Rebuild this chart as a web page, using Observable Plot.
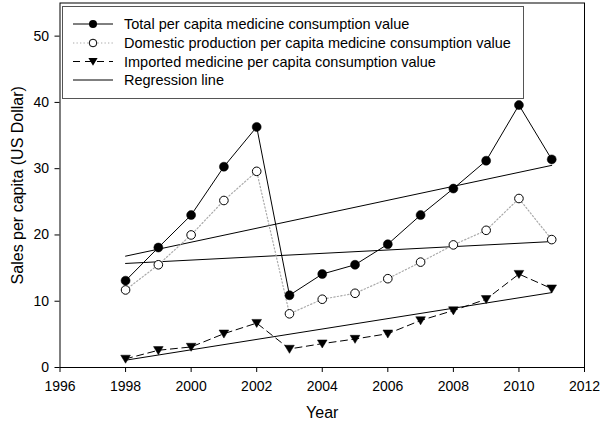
<!DOCTYPE html>
<html><head><meta charset="utf-8">
<script src="https://cdn.jsdelivr.net/npm/d3@7"></script>
<script src="https://cdn.jsdelivr.net/npm/@observablehq/plot@0.6"></script>
<style>
html,body{margin:0;padding:0;background:#fff;}
#wrap{position:relative;width:600px;height:427px;}
</style></head><body><div id="wrap"></div>
<script>
const years = [1998,1999,2000,2001,2002,2003,2004,2005,2006,2007,2008,2009,2010,2011];
const total = [13.1,18.1,23.0,30.3,36.3,10.9,14.1,15.5,18.6,23.0,27.0,31.2,39.6,31.4];
const domestic = [11.7,15.5,20.0,25.2,29.6,8.1,10.3,11.2,13.4,15.9,18.5,20.7,25.5,19.3];
const imported = [1.3,2.6,3.1,5.1,6.7,2.8,3.6,4.3,5.1,7.1,8.6,10.3,14.1,11.9];
const regYears = [1998, 2011];
const regTotal = [16.8, 30.5];
const regDomestic = [15.7, 19.0];
const regImported = [1.1, 11.3];
const xTicks = [1996,1998,2000,2002,2004,2006,2008,2010,2012];
const yTicks = [0,10,20,30,40,50];
const legendLabels = [
  "Total per capita medicine consumption value",
  "Domestic production per capita medicine consumption value",
  "Imported medicine per capita consumption value",
  "Regression line"
];
const xTitle = "Year";
const yTitle = "Sales per capita (US Dollar)";

const FONT = 'Arial, "Liberation Sans", sans-serif';
const rows = years.map((y, i) => ({year: y, total: total[i], domestic: domestic[i], imported: imported[i]}));
const regRows = [
  ...regYears.map((y, i) => ({year: y, v: regTotal[i], s: "t"})),
  ...regYears.map((y, i) => ({year: y, v: regDomestic[i], s: "d"})),
  ...regYears.map((y, i) => ({year: y, v: regImported[i], s: "i"}))
];

const triangleDown = {
  draw(context, size) {
    const r = Math.sqrt(size / Math.PI);
    const w = r * 1.05, t = r * 0.8, b = r * 0.95;
    context.moveTo(-w, -t);
    context.lineTo(w, -t);
    context.lineTo(0, b);
    context.closePath();
  }
};

const chart = Plot.plot({
  width: 600,
  height: 427,
  marginLeft: 59.5,
  marginRight: 16,
  marginTop: 2.5,
  marginBottom: 60,
  style: {fontFamily: FONT, background: "#fff", color: "#000"},
  x: {domain: [1996, 2012]},
  y: {domain: [0, 55]},
  marks: [
    Plot.axisX({ticks: xTicks, tickFormat: d => String(d), tickSize: 5, tickPadding: 9, fontSize: 14, label: null}),
    Plot.axisY({ticks: yTicks, tickFormat: d => String(d), tickSize: 5, tickPadding: 6, fontSize: 14, label: null}),
    Plot.frame({stroke: "#000", strokeWidth: 1}),
    Plot.line(regRows, {x: "year", y: "v", z: "s", stroke: "#000", strokeWidth: 1}),
    Plot.line(rows, {x: "year", y: "domestic", stroke: "#aaa", strokeWidth: 1.2, strokeDasharray: "1.3,2.2"}),
    Plot.line(rows, {x: "year", y: "imported", stroke: "#000", strokeWidth: 1, strokeDasharray: "7,4.5"}),
    Plot.line(rows, {x: "year", y: "total", stroke: "#000", strokeWidth: 1}),
    Plot.dot(rows, {x: "year", y: "domestic", r: 4.3, fill: "#fff", stroke: "#000", strokeWidth: 1}),
    Plot.dot(rows, {x: "year", y: "imported", symbol: triangleDown, r: 4.6, fill: "#000", stroke: "#000", strokeWidth: 0.5}),
    Plot.dot(rows, {x: "year", y: "total", r: 4.5, fill: "#000", stroke: "#000", strokeWidth: 0.5}),
    Plot.text([xTitle], {frameAnchor: "bottom", dy: 45, lineAnchor: "middle", textAnchor: "middle", text: d => d, fontSize: 16, fill: "#000"}),
    Plot.text([yTitle], {frameAnchor: "left", dx: -42, rotate: -90, lineAnchor: "middle", textAnchor: "middle", text: d => d, fontSize: 16, fill: "#000"})
  ]
});
document.getElementById("wrap").appendChild(chart);

// Legend (drawn into the same SVG)
const svg = d3.select(chart);
const lg = svg.append("g").attr("font-family", FONT).attr("font-size", 14.5).attr("text-anchor", "start");
lg.append("rect").attr("x", 62.5).attr("y", 6.5).attr("width", 461).attr("height", 92)
  .attr("fill", "#fff").attr("stroke", "#555").attr("stroke-width", 1);
const rowY = [24, 43, 61.5, 80];
const lx0 = 73, lx1 = 113, lmx = 93, tx = 124;
const styles = [
  {stroke: "#000", dash: null, marker: "filled"},
  {stroke: "#aaa", dash: "1.3,2.2", marker: "open"},
  {stroke: "#000", dash: "7,5", marker: "tri"},
  {stroke: "#000", dash: null, marker: null}
];
legendLabels.forEach((lab, i) => {
  const y = rowY[i], st = styles[i];
  const ln = lg.append("line").attr("x1", lx0).attr("x2", lx1).attr("y1", y).attr("y2", y)
    .attr("stroke", st.stroke).attr("stroke-width", i === 1 ? 1.2 : 1);
  if (st.dash) ln.attr("stroke-dasharray", st.dash);
  if (st.marker === "filled") lg.append("circle").attr("cx", lmx).attr("cy", y).attr("r", 4).attr("fill", "#000");
  if (st.marker === "open") lg.append("circle").attr("cx", lmx).attr("cy", y).attr("r", 3.8).attr("fill", "#fff").attr("stroke", "#000");
  if (st.marker === "tri") lg.append("path").attr("d", `M${lmx-4.6},${y-3.5}L${lmx+4.6},${y-3.5}L${lmx},${y+4.2}Z`).attr("fill", "#000");
  lg.append("text").attr("x", tx).attr("y", y).attr("dy", "0.35em").attr("fill", "#000").attr("text-anchor", "start").text(lab);
});
</script>
</body></html>
